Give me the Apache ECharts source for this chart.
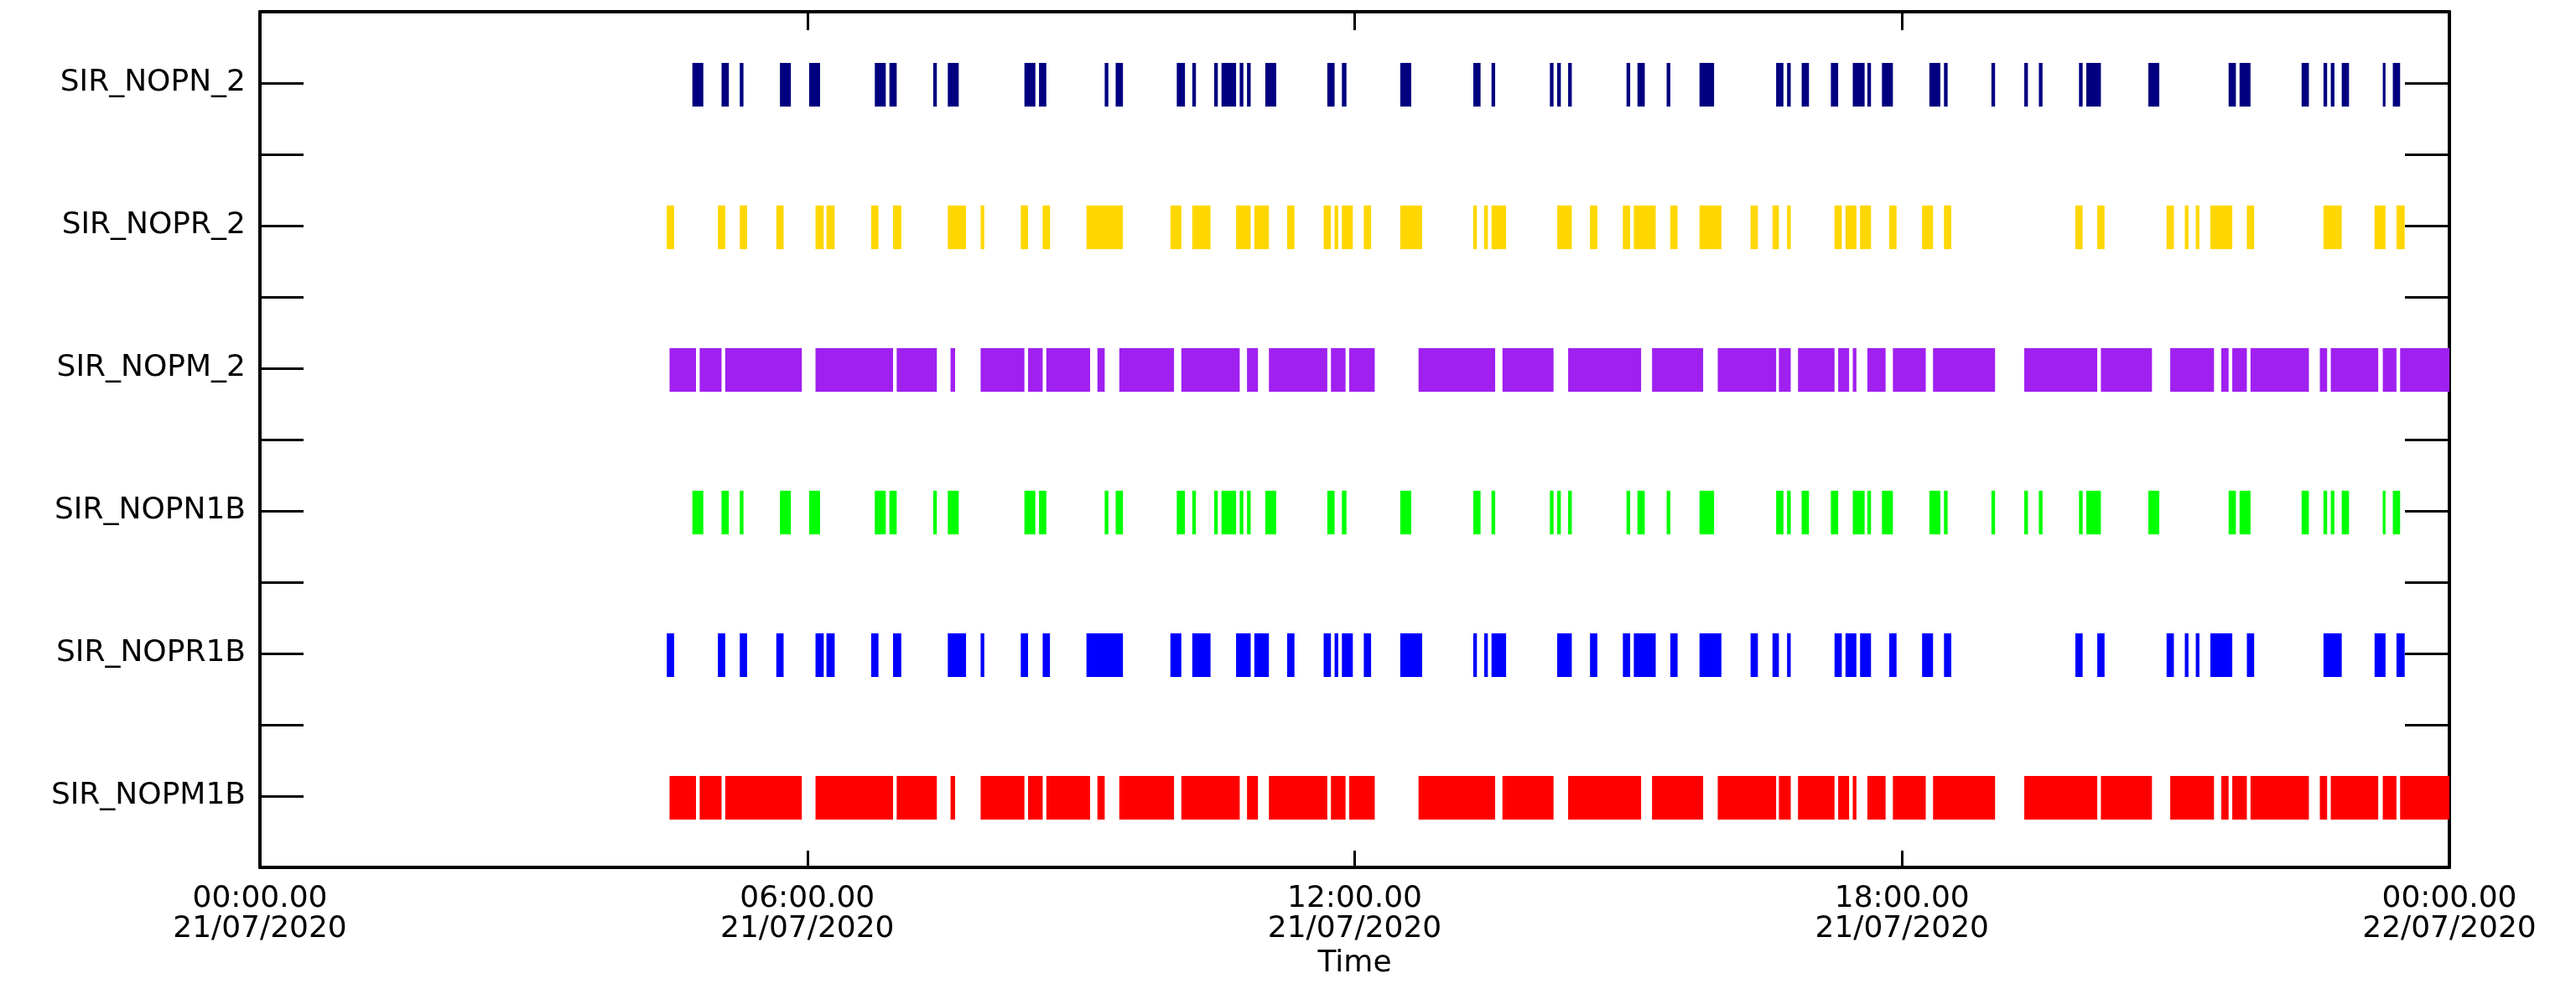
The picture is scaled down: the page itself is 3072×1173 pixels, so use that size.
<!DOCTYPE html>
<html>
<head>
<meta charset="utf-8">
<script src="https://cdn.jsdelivr.net/npm/echarts@6/dist/echarts.min.js"></script>
<style>
html,body{margin:0;padding:0;background:#fff;}
#chart{width:3072px;height:1173px;}
</style>
</head>
<body>
<div id="chart"></div>
<script>
// Row labels, bottom to top (row value 1..6)
const rowLabels = ['SIR_NOPM1B', 'SIR_NOPR1B', 'SIR_NOPN1B', 'SIR_NOPM_2', 'SIR_NOPR_2', 'SIR_NOPN_2'];
const rowColors = ['#ff0000', '#0000ff', '#00ff00', '#a020f0', '#ffd700', '#000080'];

// X tick labels (hours 0, 6, 12, 18, 24)
const xTickLabels = ['00:00.00\n21/07/2020', '06:00.00\n21/07/2020', '12:00.00\n21/07/2020', '18:00.00\n21/07/2020', '00:00.00\n22/07/2020'];
const xAxisName = 'Time';

// Interval data in decimal hours of 21/07/2020: [start, end]
const nopnIntervals = [
  [4.74,4.86],[5.06,5.14],[5.26,5.30],[5.70,5.82],[6.02,6.14],[6.74,6.86],[6.90,6.98],[7.38,7.42],[7.54,7.66],
  [8.38,8.50],[8.54,8.62],[9.26,9.30],[9.38,9.46],[10.05,10.14],[10.22,10.26],[10.46,10.50],[10.54,10.70],
  [10.74,10.78],[10.82,10.86],[11.02,11.14],[11.70,11.78],[11.86,11.91],[12.50,12.62],[13.30,13.38],[13.50,13.54],
  [14.14,14.18],[14.22,14.26],[14.34,14.38],[14.98,15.02],[15.10,15.18],[15.42,15.46],[15.78,15.94],[16.62,16.70],
  [16.74,16.78],[16.90,16.98],[17.22,17.30],[17.46,17.59],[17.62,17.66],[17.78,17.90],[18.30,18.42],[18.46,18.50],
  [18.98,19.02],[19.34,19.38],[19.50,19.54],[19.94,19.98],[20.02,20.18],[20.70,20.82],[21.58,21.66],[21.70,21.82],
  [22.38,22.46],[22.62,22.66],[22.70,22.74],[22.82,22.90],[23.27,23.30],[23.38,23.46]
];
const noprIntervals = [
  [4.46,4.54],[5.02,5.10],[5.26,5.34],[5.66,5.74],[6.09,6.18],[6.21,6.30],[6.70,6.78],[6.94,7.03],[7.54,7.74],
  [7.90,7.94],[8.34,8.42],[8.58,8.66],[9.06,9.46],[9.98,10.10],[10.22,10.42],[10.70,10.86],[10.90,11.06],[11.26,11.34],
  [11.66,11.74],[11.78,11.82],[11.86,11.98],[12.10,12.18],[12.50,12.74],[13.30,13.34],[13.42,13.46],[13.50,13.66],
  [14.22,14.38],[14.58,14.66],[14.94,15.02],[15.06,15.30],[15.46,15.54],[15.78,16.02],[16.34,16.42],[16.58,16.65],
  [16.74,16.78],[17.26,17.34],[17.38,17.50],[17.54,17.66],[17.86,17.94],[18.22,18.34],[18.46,18.54],[19.90,19.98],
  [20.14,20.22],[20.90,20.98],[21.10,21.14],[21.22,21.26],[21.38,21.62],[21.78,21.86],[22.62,22.82],[23.18,23.30],
  [23.42,23.51]
];
const nopmIntervals = [
  [4.49,4.78],[4.82,5.06],[5.10,5.94],[6.09,6.94],[6.98,7.42],[7.57,7.62],[7.90,8.38],[8.42,8.58],[8.62,9.10],
  [9.18,9.26],[9.42,10.02],[10.10,10.74],[10.82,10.94],[11.06,11.70],[11.74,11.90],[11.94,12.22],[12.70,13.54],
  [13.62,14.18],[14.34,15.14],[15.26,15.82],[15.98,16.62],[16.65,16.78],[16.86,17.26],[17.30,17.42],[17.46,17.50],
  [17.62,17.82],[17.90,18.26],[18.34,19.02],[19.34,20.14],[20.18,20.74],[20.94,21.42],[21.50,21.58],[21.62,21.78],
  [21.82,22.46],[22.58,22.66],[22.70,23.22],[23.27,23.42],[23.46,24.00]
];
// Each row (bottom to top) uses these intervals
const rowIntervals = [nopmIntervals, noprIntervals, nopnIntervals, nopmIntervals, noprIntervals, nopnIntervals];

const FONT = 'DejaVu Sans';

const series = rowLabels.map((name, i) => ({
  type: 'custom',
  name: name,
  xAxisIndex: 0,
  yAxisIndex: 0,
  data: rowIntervals[i].map(iv => [iv[0], iv[1], i + 1]),
  encode: { x: [0, 1], y: 2 },
  clip: true,
  renderItem: function (params, api) {
    const s = api.coord([api.value(0), api.value(2)]);
    const e = api.coord([api.value(1), api.value(2)]);
    const h = api.size([0, 0.306])[1];
    return {
      type: 'rect',
      shape: { x: s[0], y: s[1] - h / 2 + 2, width: Math.max(e[0] - s[0], 1), height: h },
      style: { fill: rowColors[i] }
    };
  }
}));

const chart = echarts.init(document.getElementById('chart'), null, { renderer: 'canvas' });
chart.setOption({
  backgroundColor: '#ffffff',
  animation: false,
  grid: { left: 310, right: 151, top: 14, bottom: 139 },
  xAxis: [
    {
      type: 'value', position: 'bottom', min: 0, max: 24, interval: 6,
      name: xAxisName, nameLocation: 'middle', nameGap: 97,
      nameTextStyle: { fontFamily: FONT, fontSize: 36, lineHeight: 36, color: '#000' },
      axisLine: { show: true, onZero: false, lineStyle: { color: '#000', width: 4 } },
      axisTick: { show: true, inside: true, length: 20, lineStyle: { color: '#000', width: 3 } },
      axisLabel: {
        show: true, margin: 20, fontFamily: FONT, fontSize: 36, color: '#000', lineHeight: 36,
        formatter: v => xTickLabels[Math.round(v / 6)]
      },
      splitLine: { show: false }
    },
    {
      type: 'value', position: 'top', min: 0, max: 24, interval: 6,
      axisLine: { show: true, onZero: false, lineStyle: { color: '#000', width: 4 } },
      axisTick: { show: true, inside: true, length: 22, lineStyle: { color: '#000', width: 3 } },
      axisLabel: { show: false },
      splitLine: { show: false }
    }
  ],
  yAxis: [
    {
      type: 'value', position: 'left', min: 0.5, max: 6.5, interval: 0.5,
      axisLine: { show: true, onZero: false, lineStyle: { color: '#000', width: 4 } },
      axisTick: { show: true, inside: true, length: 52, lineStyle: { color: '#000', width: 3 } },
      axisLabel: {
        show: true, margin: 17, fontFamily: FONT, fontSize: 36, color: '#000',
        formatter: v => (Math.abs(v - Math.round(v)) < 1e-6 ? rowLabels[Math.round(v) - 1] || '' : '')
      },
      splitLine: { show: false }
    },
    {
      type: 'value', position: 'right', min: 0.5, max: 6.5, interval: 0.5,
      axisLine: { show: true, onZero: false, lineStyle: { color: '#000', width: 4 } },
      axisTick: { show: true, inside: true, length: 53, lineStyle: { color: '#000', width: 3 } },
      axisLabel: { show: false },
      splitLine: { show: false }
    }
  ],
  series: series
});
</script>
</body>
</html>
